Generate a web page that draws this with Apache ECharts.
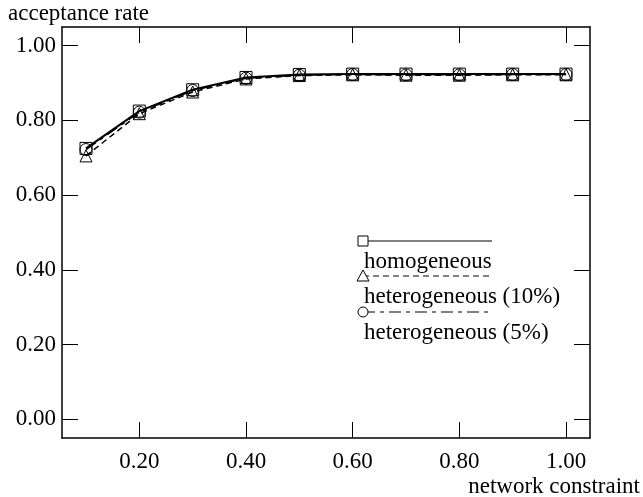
<!DOCTYPE html>
<html>
<head>
<meta charset="utf-8">
<script src="https://cdn.jsdelivr.net/npm/echarts@6/dist/echarts.min.js"></script>
<style>
  html, body { margin: 0; padding: 0; background: #fff; }
  #chart { width: 643px; height: 497px; }
</style>
</head>
<body>
<div id="chart"></div>
<script>
// data
const constraint = [0.1, 0.2, 0.3, 0.4, 0.5, 0.6, 0.7, 0.8, 0.9, 1.0]
const homogeneous = [0.725, 0.825, 0.882, 0.915, 0.923, 0.924, 0.924, 0.924, 0.924, 0.924]
const hetero10 = [0.705, 0.818, 0.876, 0.911, 0.920, 0.922, 0.921, 0.921, 0.922, 0.922]
const hetero5 = [0.722, 0.822, 0.880, 0.913, 0.921, 0.923, 0.922, 0.922, 0.923, 0.923]
const xTicks = [0.2, 0.4, 0.6, 0.8, 1.0]
const yTicks = [0, 0.2, 0.4, 0.6, 0.8, 1.0]
const names = ['homogeneous', 'heterogeneous (10%)', 'heterogeneous (5%)']

const font = '"Liberation Serif", "DejaVu Serif", serif'
const black = '#000'

const myChart = echarts.init(document.getElementById('chart'))

const pairs = (ys) => constraint.map((x, i) => [x, ys[i]])

// axis helper, ticks inside on every side
function axisBase(ticks, showLabel, isX) {
  return {
    type: 'value',
    min: isX ? 0.055 : -0.05,
    max: isX ? 1.045 : 1.05,
    axisLine: { show: true, onZero: false, lineStyle: { color: black, width: 1.5 } },
    axisTick: {
      show: true,
      inside: true,
      length: 16,
      customValues: ticks,
      lineStyle: { color: black, width: 1 }
    },
    axisLabel: {
      show: showLabel,
      customValues: ticks,
      formatter: (v) => v.toFixed(2),
      color: black,
      fontFamily: font,
      fontSize: 23,
      margin: isX ? 12 : 6
    },
    splitLine: { show: false }
  }
}

const seriesStyle = [
  { symbol: 'rect', type: 'solid', width: 2 },
  { symbol: 'triangle', type: [6, 4], width: 1.5 },
  { symbol: 'circle', type: [12, 5, 4, 5], width: 1.5 }
]
const values = [homogeneous, hetero10, hetero5]

// legend drawn by hand: marker + line, text below
const legendGraphic = []
const legendY = [241, 276, 312]
names.forEach((n, i) => {
  const y = legendY[i]
  legendGraphic.push({
    type: 'line',
    shape: { x1: 363, y1: y, x2: 492, y2: y },
    style: { stroke: black, lineWidth: 1, lineDash: i === 0 ? null : seriesStyle[i].type }
  })
  if (i === 0) {
    legendGraphic.push({ type: 'rect', shape: { x: 358, y: y - 5, width: 10, height: 10 }, style: { fill: '#fff', stroke: black, lineWidth: 1 } })
  } else if (i === 1) {
    legendGraphic.push({ type: 'polygon', shape: { points: [[363, y - 6], [357, y + 5], [369, y + 5]] }, style: { fill: '#fff', stroke: black, lineWidth: 1 } })
  } else {
    legendGraphic.push({ type: 'circle', shape: { cx: 363, cy: y, r: 5 }, style: { fill: '#fff', stroke: black, lineWidth: 1 } })
  }
  legendGraphic.push({
    type: 'text',
    x: 364,
    y: y + 21,
    style: { text: n, fill: black, font: '23px ' + font, textVerticalAlign: 'middle', textAlign: 'left' }
  })
})

const options = {
  backgroundColor: '#fff',
  animation: false,
  grid: { left: 62, top: 27, right: 53, bottom: 59 },
  xAxis: [
    Object.assign(axisBase(xTicks, true, true), { position: 'bottom' }),
    Object.assign(axisBase(xTicks, false, true), { position: 'top' })
  ],
  yAxis: [
    Object.assign(axisBase(yTicks, true, false), { position: 'left' }),
    Object.assign(axisBase(yTicks, false, false), { position: 'right' })
  ],
  series: names.map((n, i) => ({
    name: n,
    type: 'line',
    data: pairs(values[i]),
    symbol: seriesStyle[i].symbol,
    symbolSize: 12,
    showAllSymbol: true,
    itemStyle: { color: 'rgba(0,0,0,0)', borderColor: black, borderWidth: 1 },
    lineStyle: { color: black, width: seriesStyle[i].width, type: seriesStyle[i].type }
  })),
  graphic: [
    { type: 'text', x: 8, y: 14, style: { text: 'acceptance rate', fill: black, font: '23px ' + font, textVerticalAlign: 'middle' } },
    { type: 'text', x: 640, y: 487, style: { text: 'network constraint', fill: black, font: '23px ' + font, textVerticalAlign: 'middle', textAlign: 'right' } }
  ].concat(legendGraphic)
}

myChart.setOption(options)
</script>
</body>
</html>
